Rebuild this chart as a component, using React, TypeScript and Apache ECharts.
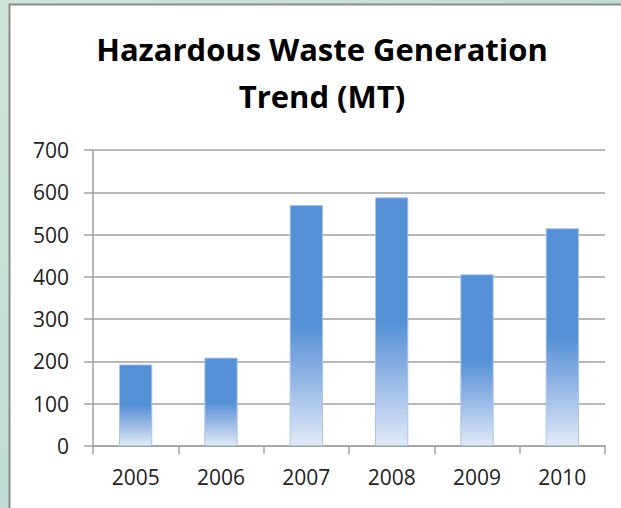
import React, { useEffect, useRef } from "react";
import * as echarts from "echarts";

const titleText = "Hazardous Waste Generation\nTrend (MT)";
const years = ["2005", "2006", "2007", "2008", "2009", "2010"];
const wasteValues = [193, 209, 570, 588, 406, 515];
const yTicks = [0, 100, 200, 300, 400, 500, 600, 700];

export default function App() {
  const ref = useRef<HTMLDivElement>(null);
  useEffect(() => {
    if (!ref.current) return;
    const chart = echarts.init(ref.current, undefined, { renderer: "svg" });
    const font = "'Open Sans', 'Noto Sans', sans-serif";
    chart.setOption({
      animation: false,
      backgroundColor: {
        type: "linear",
        x: 0, y: 0, x2: 1, y2: 1,
        colorStops: [
          { offset: 0, color: "#d0e4d8" },
          { offset: 1, color: "#b2d5d1" },
        ],
      },
      graphic: [
        {
          type: "rect",
          shape: { x: 9.5, y: 4.5, width: 640, height: 540 },
          style: { fill: "#ffffff", stroke: "#8c8c8c", lineWidth: 2 },
          z: -10,
          silent: true,
        },
        {
          type: "text",
          x: 322,
          y: 25,
          style: {
            text: titleText,
            fill: "#000000",
            fontFamily: font,
            fontWeight: "bold",
            fontSize: 31,
            lineHeight: 47,
            textAlign: "center",
            textVerticalAlign: "top",
          },
          silent: true,
        },
      ],
      grid: { left: 93, right: 16, top: 150, bottom: 62 },
      xAxis: {
        type: "category",
        data: years,
        boundaryGap: true,
        axisLine: { show: true, lineStyle: { color: "#a0a0a0", width: 1.5 } },
        axisTick: { show: true, length: 8, alignWithLabel: false, lineStyle: { color: "#a0a0a0", width: 1.5 } },
        axisLabel: { margin: 20, fontFamily: font, fontSize: 21, color: "#222222" },
        splitLine: { show: false },
      },
      yAxis: {
        type: "value",
        min: yTicks[0],
        max: yTicks[yTicks.length - 1],
        interval: 100,
        axisLine: { show: true, lineStyle: { color: "#a0a0a0", width: 1.5 } },
        axisTick: { show: true, length: 9, lineStyle: { color: "#a0a0a0", width: 1.5 } },
        axisLabel: { margin: 24, fontFamily: font, fontSize: 21, color: "#222222" },
        splitLine: { show: true, lineStyle: { color: "#a0a0a0", width: 1.5 } },
      },
      series: [
        {
          type: "bar",
          data: wasteValues,
          barWidth: "39%",
          itemStyle: {
            color: {
              type: "linear",
              x: 0, y: 0, x2: 0, y2: 1,
              colorStops: [
                { offset: 0, color: "#5590d6" },
                { offset: 0.5, color: "#5590d6" },
                { offset: 0.72, color: "#93b5e4" },
                { offset: 1, color: "#e2eaf7" },
              ],
            },
            borderColor: "#a8c3ea",
            borderWidth: 1,
          },
        },
      ],
    });
    return () => chart.dispose();
  }, []);
  return (
    <div
      ref={ref}
      style={{ position: "fixed", left: 0, top: 0, width: 621, height: 508 }}
    />
  );
}
